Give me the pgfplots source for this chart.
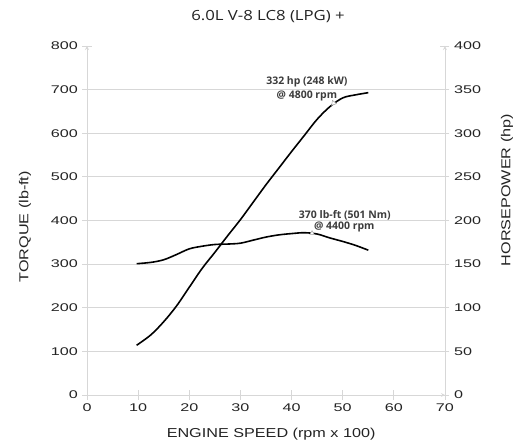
\documentclass[border=0pt]{standalone}
\usepackage{fontspec}
\setmainfont[FakeStretch=1.25]{Liberation Sans}
\newfontfamily\tickfont[FakeStretch=1.45]{Liberation Sans}
\newfontfamily\titlefont[FakeStretch=1.2]{Open Sans}
\newfontfamily\annfont{Open Sans}
\usepackage{pgfplots}
\pgfplotsset{compat=1.18}
\definecolor{gridgray}{RGB}{215,215,215}
\definecolor{txt}{RGB}{35,35,35}
\definecolor{anntxt}{RGB}{60,60,60}
\begin{document}
\begin{tikzpicture}
\path[use as bounding box] (-87bp,-49bp) rectangle (443bp,395bp);
\pgfplotsset{
 common/.style={
  at={(0,0)}, anchor=south west, scale only axis,
  width=358bp, height=349bp,
  xmin=0, xmax=70, clip=false,
  tick align=outside, major tick length=9bp,
  tick style={gridgray, line width=0.8pt},
  axis line style={-, gridgray, line width=0.8pt},
  ticklabel style={font=\tickfont\fontsize{11.2}{13}\selectfont, text=txt},
  /pgf/number format/assume math mode=true,
 }
}
\begin{axis}[common,
  axis x line=bottom, axis y line=left,
  ymin=0, ymax=800,
  xtick={0,10,...,70},
  ytick={0,100,...,700},
  extra y ticks={800},
  extra y tick style={grid=none},
  ymajorgrids, grid style={gridgray, line width=0.8pt},
  yticklabel style={xshift=-1bp},
  xticklabel style={yshift=-1bp},
]
\addplot[black, line width=1.6pt, smooth, tension=0.55] coordinates {
 (9.7,301) (12.5,304) (15,310) (17.5,322) (20,335) (22.5,341) (25,345)
 (27.5,346) (30,348) (32.5,355) (35,362) (37.5,367) (40,370) (42.5,372)
 (45,369) (47.5,360) (50,352) (52.5,343) (55,332)};
\addplot[only marks, mark=triangle*, mark size=2.5pt, mark options={fill=white, draw=gray!70, line width=0.5pt}]
 coordinates {(44,371)};
\node[font=\titlefont\fontsize{14}{16}\selectfont, text=txt, anchor=base] at (axis cs:35.4,800) [yshift=25bp] {6.0L V-8 LC8 (LPG) +};
\node[font=\fontsize{13}{15}\selectfont, text=txt, anchor=center] at (axis cs:36,0) [yshift=-39bp] {ENGINE SPEED (rpm x 100)};
\node[font=\fontsize{13}{15}\selectfont, text=txt, anchor=center, rotate=90] at ([xshift=-62bp]rel axis cs:0,0.482) {TORQUE (lb-ft)};
\node[font=\annfont\bfseries\fontsize{10.5}{12}\selectfont, text=anntxt, anchor=center] at (axis cs:50.4,411) {370 lb-ft (501 Nm)};
\node[font=\annfont\bfseries\fontsize{10.5}{12}\selectfont, text=anntxt, anchor=center] at (axis cs:50.3,386) {@ 4400 rpm};
\end{axis}
\begin{axis}[common,
  axis x line=none, axis y line=right,
  ymin=0, ymax=400,
  ytick={0,50,...,400},
  yticklabel style={xshift=1bp},
]
\addplot[black, line width=1.6pt, smooth, tension=0.55] coordinates {
 (9.7,57) (12.5,69) (15,84) (17.5,102) (20,123.5) (22.5,145) (25,163.5)
 (27.5,182.5) (30,201) (32.5,221) (35,241) (37.5,260) (40,279) (42.5,297.5)
 (45,316) (47.5,330.5) (50,340.5) (52.5,344) (55,346.5)};
\addplot[only marks, mark=triangle*, mark size=3pt, mark options={fill=white, draw=gray!70, line width=0.5pt, rotate=20}]
 coordinates {(48.2,334.5)};
\node[font=\annfont\bfseries\fontsize{10.5}{12}\selectfont, text=anntxt, anchor=center] at (axis cs:43,359) {332 hp (248 kW)};
\node[font=\annfont\bfseries\fontsize{10.5}{12}\selectfont, text=anntxt, anchor=center] at (axis cs:43,343) {@ 4800 rpm};
\node[font=\fontsize{13}{15}\selectfont, text=txt, anchor=center, rotate=90] at ([xshift=62bp]rel axis cs:1,0.587) {HORSEPOWER (hp)};
\end{axis}
\end{tikzpicture}
\end{document}
